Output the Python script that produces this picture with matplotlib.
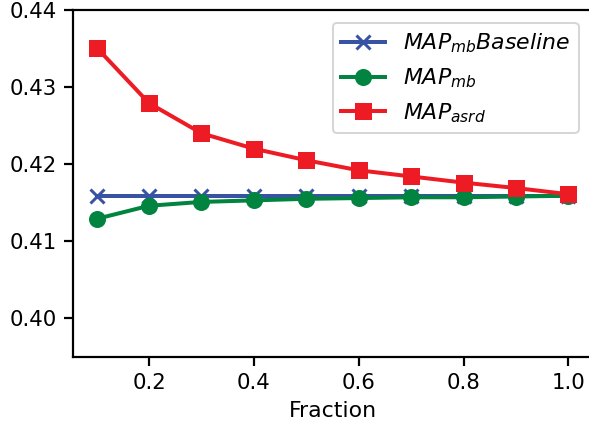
import matplotlib
matplotlib.use("Agg")
import matplotlib.pyplot as plt

fraction = [0.1, 0.2, 0.3, 0.4, 0.5, 0.6, 0.7, 0.8, 0.9, 1.0]
map_mb_baseline = [0.4159] * 10
map_mb = [0.4129, 0.4146, 0.4151, 0.4153, 0.4155, 0.4156, 0.4157, 0.4157, 0.4158, 0.4159]
map_asrd = [0.4351, 0.4279, 0.4240, 0.4220, 0.4205, 0.4192, 0.4184, 0.4176, 0.4169, 0.4161]

plt.rcParams['font.size'] = 11
plt.rcParams['xtick.labelsize'] = 10.6
plt.rcParams['ytick.labelsize'] = 10.6
plt.rcParams['axes.linewidth'] = 1.1
plt.rcParams['xtick.major.size'] = 4.5
plt.rcParams['ytick.major.size'] = 4.5
plt.rcParams['xtick.major.width'] = 1.1
plt.rcParams['ytick.major.width'] = 1.1

fig = plt.figure(figsize=(589 / 144, 427 / 144), dpi=144)
ax = fig.add_axes([0.124, 0.164, 0.881, 0.813])

ax.plot(fraction, map_mb_baseline, marker='x', color='#3953a4', lw=2, ms=7, mew=1.5,
        label=r'$MAP_{mb}Baseline$')
ax.plot(fraction, map_mb, marker='o', color='#00843f', lw=2, ms=7.5,
        label=r'$MAP_{mb}$')
ax.plot(fraction, map_asrd, marker='s', color='#ed1c24', lw=2, ms=7.5,
        label=r'$MAP_{asrd}$')

ax.set_ylim(0.395, 0.44)
ax.set_yticks([0.40, 0.41, 0.42, 0.43, 0.44])
ax.set_xticks([0.2, 0.4, 0.6, 0.8, 1.0])
ax.set_xlabel("Fraction")
ax.legend(loc='upper right', borderaxespad=0.6)

fig.savefig("out.png", dpi=144)
